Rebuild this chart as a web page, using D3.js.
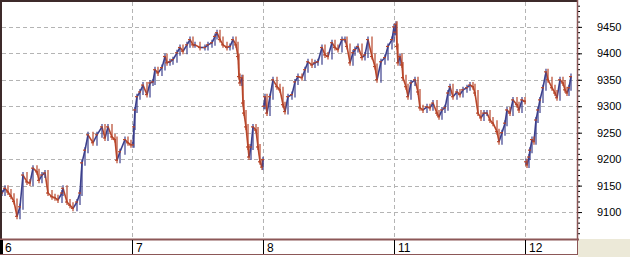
<!DOCTYPE html>
<html>
<head>
<meta charset="utf-8">
<script src="https://cdn.jsdelivr.net/npm/d3@7.9.0/dist/d3.min.js"></script>
<style>
  html, body { margin: 0; padding: 0; background: #fff; }
  svg { display: block; font-family: Arial, "Liberation Sans", sans-serif; }
</style>
</head>
<body>
<svg id="chart" width="630" height="257"></svg>
<script>
// day labels on the time axis
const dayLabels = ['6', '7', '8', '11', '12'];
const slotsPerDay = 131;
const yTicks = [9100, 9150, 9200, 9250, 9300, 9350, 9400, 9450];

// [slot within the day, price]
const day6 = [[0,9136],[3,9145],[6,9138],[9,9130],[12,9120],[15,9092],[18,9110],[21,9170],
  [25,9157],[28,9155],[31,9183],[35,9176],[37,9160],[40,9170],[43,9174],[46,9136],[50,9129],
  [53,9127],[56,9123],[60,9136],[61,9145],[65,9119],[68,9113],[71,9107],[75,9119],[78,9136],
  [80,9193],[83,9217],[86,9246],[91,9231],[95,9246],[100,9261],[103,9240],[106,9261],
  [110,9242],[113,9237],[115,9198],[118,9214],[123,9237],[126,9231],[129,9227]];
const day7 = [[0,9227],[1,9261],[2,9293],[4,9318],[7,9327],[10,9340],[14,9322],[17,9344],
  [20,9346],[22,9369],[25,9363],[29,9373],[32,9394],[34,9382],[37,9384],[40,9388],[44,9401],
  [47,9411],[50,9404],[54,9416],[57,9426],[60,9416],[62,9416],[67,9411],[72,9411],[75,9416],
  [79,9420],[82,9432],[84,9439],[87,9426],[90,9416],[94,9411],[97,9413],[100,9426],[103,9416],
  [105,9394],[106,9356],[107,9344],[109,9354],[110,9306],[111,9287],[113,9261],[115,9223],
  [116,9204],[118,9223],[120,9261],[123,9255],[125,9223],[127,9195],[129,9185],[130,9199]];
const day8 = [[0,9300],[1,9318],[3,9287],[6,9318],[9,9350],[13,9337],[16,9331],[19,9303],
  [21,9290],[24,9318],[28,9322],[31,9346],[34,9356],[38,9354],[41,9369],[44,9384],[48,9378],
  [51,9382],[54,9384],[58,9411],[61,9397],[64,9394],[68,9420],[71,9411],[74,9407],[78,9426],
  [81,9426],[83,9413],[86,9382],[89,9401],[91,9407],[94,9413],[98,9392],[101,9397],[104,9426],
  [108,9394],[111,9375],[113,9350],[117,9384],[121,9392],[124,9413],[128,9426],[130,9450]];
const day11 = [[0,9440],[1,9455],[2,9413],[3,9382],[5,9394],[7,9378],[8,9354],[11,9337],
  [13,9318],[16,9344],[20,9350],[23,9327],[25,9297],[28,9293],[32,9299],[35,9297],[38,9306],
  [42,9287],[44,9280],[47,9293],[50,9297],[53,9325],[55,9337],[58,9318],[62,9327],[65,9322],
  [68,9331],[72,9335],[75,9340],[78,9337],[80,9325],[83,9287],[86,9278],[89,9287],[92,9287],
  [95,9274],[98,9268],[102,9252],[104,9233],[107,9250],[110,9268],[112,9293],[115,9287],
  [118,9312],[122,9303],[124,9293],[127,9312],[130,9309]];
const day12 = [[0,9195],[1,9189],[3,9204],[4,9217],[6,9237],[8,9233],[10,9274],[12,9293],
  [14,9312],[17,9335],[20,9365],[22,9350],[26,9335],[29,9325],[31,9316],[34,9350],[37,9344],
  [39,9331],[41,9325],[43,9335],[45,9356]];

const days = [day6, day7, day8, day11, day12];

const svg = d3.select('#chart');
const plot = { left: 2, right: 577, top: 2, bottom: 238 };

const x = d3.scaleLinear().domain([0, 575]).range([plot.left, plot.right]);
const y = d3.scaleLinear().domain([9051, 9497]).range([plot.bottom, plot.top]);

const up = '#3b3f8c';
const down = '#b8462a';
const frame = '#8c5757';

// background pieces
svg.append('rect').attr('width', 630).attr('height', 257).attr('fill', '#fff');
svg.append('rect').attr('x', 578).attr('y', 239).attr('width', 52).attr('height', 18).attr('fill', '#ece9d8');

// horizontal grid
svg.append('g')
  .selectAll('line')
  .data(yTicks)
  .join('line')
  .attr('x1', plot.left).attr('x2', plot.right)
  .attr('y1', (d) => Math.round(y(d)) + 0.5).attr('y2', (d) => Math.round(y(d)) + 0.5)
  .attr('stroke', '#b4b4b4')
  .attr('stroke-dasharray', '4,3');

// vertical grid at day starts
svg.append('g')
  .selectAll('line')
  .data(d3.range(1, dayLabels.length))
  .join('line')
  .attr('x1', (i) => Math.round(x(i * slotsPerDay)) - 0.5)
  .attr('x2', (i) => Math.round(x(i * slotsPerDay)) - 0.5)
  .attr('y1', plot.top).attr('y2', plot.bottom)
  .attr('stroke', '#b4b4b4')
  .attr('stroke-dasharray', '4,3');

// price bars
let bars = [];
days.forEach((pts, di) => {
  pts.forEach(([s, v], i) => {
    let prev = i === 0 ? v : pts[i - 1][1];
    let prevS = i === 0 ? s : pts[i - 1][0];
    bars.push({ s0: di * slotsPerDay + prevS, s1: di * slotsPerDay + s, v0: prev, v1: v });
  });
});

const g = svg.append('g');
g.selectAll('line.seg')
  .data(bars)
  .join('line')
  .attr('class', 'seg')
  .attr('x1', (d) => x(d.s0)).attr('x2', (d) => x(d.s1))
  .attr('y1', (d) => y(d.v0)).attr('y2', (d) => y(d.v1))
  .attr('stroke', (d) => d.v1 >= d.v0 ? up : down)
  .attr('stroke-width', 1.6);

g.selectAll('line.wick')
  .data(bars)
  .join('line')
  .attr('class', 'wick')
  .attr('x1', (d) => x(d.s1)).attr('x2', (d) => x(d.s1))
  .attr('y1', (d) => y(Math.max(d.v0, d.v1)) - 3).attr('y2', (d) => y(Math.min(d.v0, d.v1)) + 3)
  .attr('stroke', (d) => d.v1 >= d.v0 ? up : down)
  .attr('stroke-width', 1.2);

g.selectAll('line.tick')
  .data(bars)
  .join('line')
  .attr('class', 'tick')
  .attr('x1', (d) => x(d.s1) - 2).attr('x2', (d) => x(d.s1) + 1)
  .attr('y1', (d) => y(d.v1)).attr('y2', (d) => y(d.v1))
  .attr('stroke', down)
  .attr('stroke-width', 1.2);

// frame of the plot
svg.append('line').attr('x1', 0).attr('x2', 578).attr('y1', 1).attr('y2', 1)
  .attr('stroke', '#3d2a2a').attr('stroke-width', 2);
svg.append('line').attr('x1', 1).attr('x2', 1).attr('y1', 0).attr('y2', 239)
  .attr('stroke', '#3d2a2a').attr('stroke-width', 2);

// right price axis
const yAxis = svg.append('g').attr('transform', `translate(${plot.right + 1},0)`);
yAxis.call(d3.axisRight(y).tickValues(d3.range(9060, 9500, 10)).tickSize(2).tickFormat(''));
yAxis.select('.domain').remove();
const yMajor = svg.append('g').attr('transform', `translate(${plot.right + 1},0)`);
yMajor.call(d3.axisRight(y).tickValues(yTicks).tickSize(4).tickPadding(15).tickFormat(d3.format('d')));
yMajor.select('.domain').remove();
yMajor.selectAll('text').attr('font-size', 11).attr('fill', '#000');
svg.selectAll('.tick line').attr('stroke', '#000');
svg.append('line').attr('x1', plot.right + 0.5).attr('x2', plot.right + 0.5)
  .attr('y1', 0).attr('y2', 240).attr('stroke', frame).attr('stroke-width', 1.5);

// time axis band
svg.append('rect').attr('x', 0).attr('y', 239).attr('width', 578).attr('height', 16)
  .attr('fill', '#fff');
svg.append('line').attr('x1', 0).attr('x2', 579).attr('y1', 239.5).attr('y2', 239.5)
  .attr('stroke', frame).attr('stroke-width', 2);
svg.append('line').attr('x1', 0).attr('x2', 578).attr('y1', 254.5).attr('y2', 254.5)
  .attr('stroke', frame).attr('stroke-width', 1);
svg.append('line').attr('x1', 577.5).attr('x2', 577.5).attr('y1', 239).attr('y2', 255)
  .attr('stroke', frame).attr('stroke-width', 1);

const xAxis = svg.append('g');
xAxis.selectAll('line')
  .data(dayLabels)
  .join('line')
  .attr('x1', (d, i) => Math.round(x(i * slotsPerDay)) - 0.5)
  .attr('x2', (d, i) => Math.round(x(i * slotsPerDay)) - 0.5)
  .attr('y1', 240).attr('y2', 254)
  .attr('stroke', '#000')
  .attr('stroke-width', (d, i) => i === 0 ? 3 : 1);
xAxis.selectAll('text')
  .data(dayLabels)
  .join('text')
  .attr('x', (d, i) => Math.round(x(i * slotsPerDay)) + 3)
  .attr('y', 252)
  .attr('font-size', 12)
  .attr('fill', '#000')
  .text((d) => d);
</script>
</body>
</html>
